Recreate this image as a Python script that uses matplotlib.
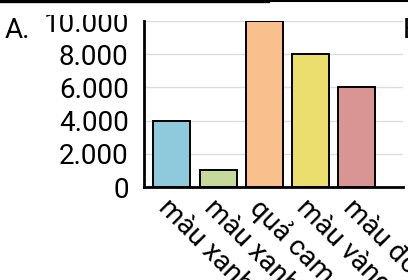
import matplotlib
matplotlib.use("Agg")
from matplotlib import pyplot as plt
from matplotlib.patches import Rectangle
from matplotlib.ticker import FuncFormatter

categories = ["màu xanh dương", "màu xanh lá", "quả cam", "màu vàng", "màu đỏ"]
values = [4000, 1000, 10000, 8000, 6000]
bar_colors = ["#8fcadc", "#c6d99b", "#f9c08e", "#ebdd6e", "#d99594"]
yticks = [0, 2000, 4000, 6000, 8000, 10000]

plt.rcParams["font.family"] = ["Roboto", "DejaVu Sans"]

fig = plt.figure(figsize=(4.08, 2.80), dpi=100)
ax = fig.add_axes([144/408, 1 - 187/280, 259/408, 166/280])

ax.bar(range(len(values)), values, width=0.8, color=bar_colors,
       edgecolor="black", linewidth=1.4, zorder=3)

ax.set_xlim(-0.6, 5.0)
ax.set_ylim(0, 10000)
ax.set_yticks(yticks)
# dot as thousands separator
ax.yaxis.set_major_formatter(FuncFormatter(lambda v, p: f"{int(v):,}".replace(",", ".")))
ax.set_xticks(range(len(categories)))
ax.set_xticklabels(categories, rotation=-45, ha="left", va="top",
                   rotation_mode="anchor")
ax.tick_params(axis="both", length=0, labelsize=20)
ax.tick_params(axis="y", pad=11)
ax.tick_params(axis="x", pad=5)
ax.grid(axis="y", color="#dddddd", linewidth=1, zorder=0)
for s in ["top", "right"]:
    ax.spines[s].set_visible(False)
for s in ["left", "bottom"]:
    ax.spines[s].set_linewidth(2)
    ax.spines[s].set_zorder(4)

# clip top of the 10.000 label like the cropped source
fig.patches.append(Rectangle((0, 1 - 14.5/280), 1, 12.5/280, transform=fig.transFigure,
                             facecolor="white", edgecolor="none", zorder=10))
# top border lines
fig.lines.append(plt.Line2D([0, 268/408], [1 - 1.2/280] * 2, transform=fig.transFigure,
                            color="black", linewidth=2.4, zorder=11))
fig.lines.append(plt.Line2D([268/408, 1], [1 - 1.2/280] * 2, transform=fig.transFigure,
                            color="black", linewidth=1.5, zorder=11))

fig.text(5/408, 1 - 38/280, "A.", fontsize=20, va="baseline", ha="left", zorder=12)
fig.text(403/408, 1 - 38/280, "B.", fontsize=20, va="baseline", ha="left", zorder=12)

fig.savefig("out.png", dpi=100)
